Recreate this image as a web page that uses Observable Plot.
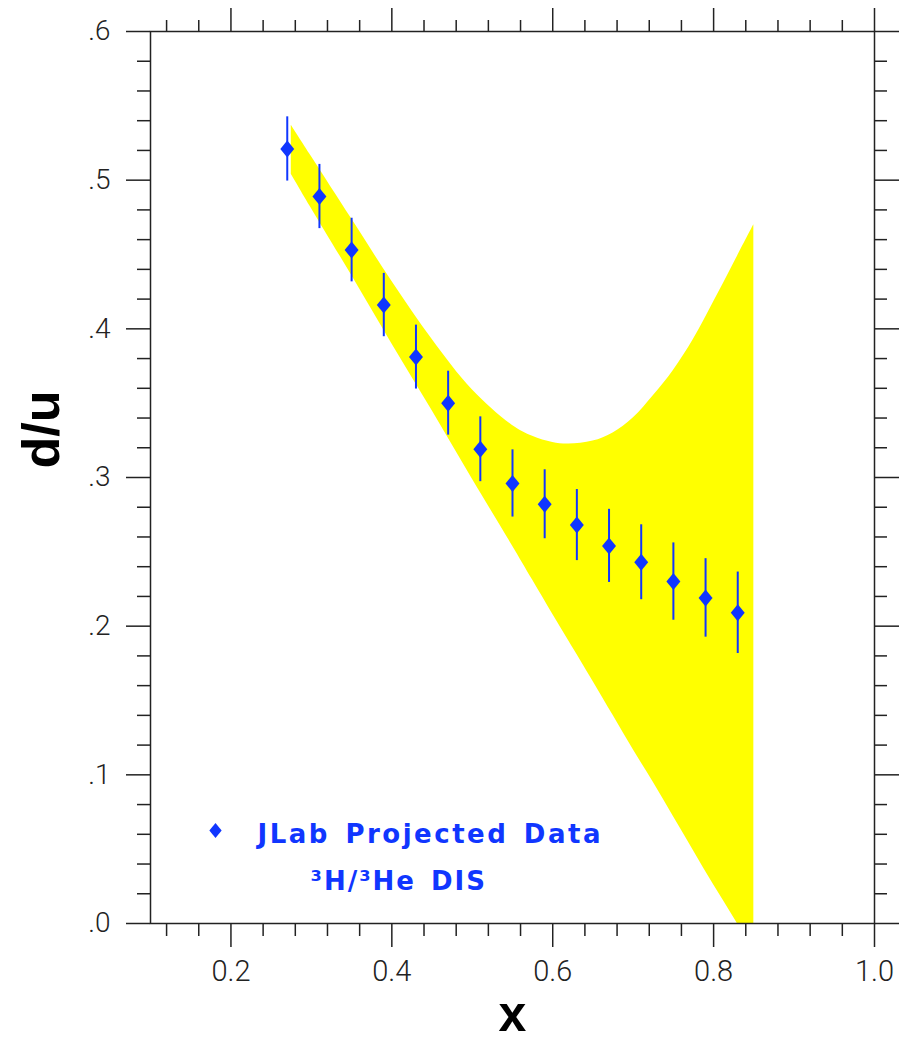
<!DOCTYPE html>
<html>
<head>
<meta charset="utf-8">
<script src="https://cdn.jsdelivr.net/npm/d3@7"></script>
<script src="https://cdn.jsdelivr.net/npm/@observablehq/plot@0.6"></script>
<style>
  html, body { margin: 0; padding: 0; background: #fff; }
  #chart svg { display: block; }
</style>
</head>
<body>
<div id="chart"></div>
<script>
// ---- data ----
const pointX = [0.27, 0.31, 0.35, 0.39, 0.43, 0.47, 0.51, 0.55, 0.59, 0.63, 0.67, 0.71, 0.75, 0.79, 0.83];
const pointY = [0.521, 0.489, 0.453, 0.416, 0.381, 0.350, 0.319, 0.296, 0.282, 0.268, 0.254, 0.243, 0.230, 0.219, 0.209];
const pointErr = [0.0216, 0.0216, 0.0214, 0.0213, 0.0215, 0.0215, 0.0218, 0.0226, 0.0232, 0.0239, 0.0246, 0.0252, 0.0260, 0.0264, 0.0274];

const bandX     = [0.275, 0.30, 0.35, 0.40, 0.45, 0.50, 0.55, 0.575, 0.60, 0.62, 0.65, 0.675, 0.70, 0.725, 0.75, 0.775, 0.80, 0.825, 0.85];
const bandUpper = [0.537, 0.516, 0.474, 0.432, 0.393, 0.359, 0.335, 0.3277, 0.3235, 0.3225, 0.3245, 0.330, 0.340, 0.355, 0.372, 0.393, 0.418, 0.444, 0.470];
const bandLower = [0.504, 0.481, 0.436, 0.390, 0.345, 0.299, 0.254, 0.231, 0.208, 0.190, 0.163, 0.140, 0.117, 0.095, 0.072, 0.049, 0.026, 0.004, -0.019];

const xMajor = [0.2, 0.4, 0.6, 0.8, 1.0];
const xTickLabels = ["0.2", "0.4", "0.6", "0.8", "1.0"];
const xMinor = [0.12, 0.16, 0.24, 0.28, 0.32, 0.36, 0.44, 0.48, 0.52, 0.56, 0.64, 0.68, 0.72, 0.76, 0.84, 0.88, 0.92, 0.96];
const yMajor = [0, 0.1, 0.2, 0.3, 0.4, 0.5, 0.6];
const yTickLabels = [".0", ".1", ".2", ".3", ".4", ".5", ".6"];
const yMinor = [0.02, 0.04, 0.06, 0.08, 0.12, 0.14, 0.16, 0.18, 0.22, 0.24, 0.26, 0.28,
                0.32, 0.34, 0.36, 0.38, 0.42, 0.44, 0.46, 0.48, 0.52, 0.54, 0.56, 0.58];

const legendLabel = "JLab Projected Data";
const legendSub = "³H/³He DIS";
const xLabel = "x";
const yLabel = "d/u";

// ---- tables ----
const points = pointX.map((x, i) => ({x, y: pointY[i], e: pointErr[i]}));
const band = bandX.map((x, i) => ({x, hi: bandUpper[i], lo: bandLower[i]}));

const blue = "#1036ff";
const axisColor = "#222";
const tickFont = "Roboto";

const diamond = {
  draw(ctx, size) {
    const r = Math.sqrt(size / Math.PI);
    const w = r * 0.82;
    ctx.moveTo(0, -r);
    ctx.lineTo(w, 0);
    ctx.lineTo(0, r);
    ctx.lineTo(-w, 0);
    ctx.closePath();
  }
};

const lookup = (vals, labels) => (d) => {
  const i = vals.findIndex(v => Math.abs(v - d) < 1e-9);
  return i < 0 ? "" : labels[i];
};
const blank = () => "";

const chart = Plot.plot({
  width: 910,
  height: 1041,
  marginLeft: 150,
  marginRight: 36,
  marginTop: 31,
  marginBottom: 118,
  style: {background: "#fff", overflow: "visible"},
  x: {domain: [0.1, 1.0], axis: null},
  y: {domain: [0, 0.6], axis: null},
  marks: [
    Plot.areaY(band, {x: "x", y1: "lo", y2: "hi", fill: "#ffff00", curve: "catmull-rom", clip: true}),
    Plot.ruleX(points, {x: "x", y1: d => d.y - d.e, y2: d => d.y + d.e, stroke: blue, strokeWidth: 2}),
    Plot.dot(points, {x: "x", y: "y", symbol: diamond, r: 8.5, fill: blue}),
    Plot.frame({stroke: axisColor, strokeWidth: 1.5}),
    // left axis
    Plot.axisY({anchor: "left", ticks: yMajor, tickSize: 24, tickPadding: 16, label: null,
      tickFormat: lookup(yMajor, yTickLabels), fontSize: 28, fontFamily: tickFont, fontWeight: 300,
      stroke: axisColor, strokeWidth: 1.5, fill: "#222"}),
    Plot.axisY({anchor: "left", ticks: yMinor, tickSize: 13, label: null, tickFormat: blank,
      stroke: axisColor, strokeWidth: 1.5}),
    // right axis
    Plot.axisY({anchor: "right", ticks: yMajor, tickSize: 24, label: null, tickFormat: blank,
      stroke: axisColor, strokeWidth: 1.5}),
    Plot.axisY({anchor: "right", ticks: yMinor, tickSize: 12, label: null, tickFormat: blank,
      stroke: axisColor, strokeWidth: 1.5}),
    // bottom axis
    Plot.axisX({anchor: "bottom", ticks: xMajor, tickSize: 24, tickPadding: 13, label: null,
      tickFormat: lookup(xMajor, xTickLabels), fontSize: 29, fontFamily: tickFont, fontWeight: 300,
      stroke: axisColor, strokeWidth: 1.5, fill: "#222"}),
    Plot.axisX({anchor: "bottom", ticks: xMinor, tickSize: 13, label: null, tickFormat: blank,
      stroke: axisColor, strokeWidth: 1.5}),
    // top axis
    Plot.axisX({anchor: "top", ticks: xMajor, tickSize: 24, label: null, tickFormat: blank,
      stroke: axisColor, strokeWidth: 1.5}),
    Plot.axisX({anchor: "top", ticks: xMinor, tickSize: 12, label: null, tickFormat: blank,
      stroke: axisColor, strokeWidth: 1.5}),
    // axis titles
    Plot.text([xLabel], {frameAnchor: "bottom", dy: 107, lineAnchor: "bottom", text: d => d,
      fontSize: 50, fontWeight: "bold", fontFamily: "Liberation Sans", fill: "#000"}),
    Plot.text([yLabel], {frameAnchor: "left", dx: -92, dy: -9, rotate: -90, lineAnchor: "bottom", text: d => d,
      fontSize: 52, fontWeight: "bold", fontFamily: "Liberation Sans", fill: "#000"}),
    // legend
    Plot.dot([legendLabel], {frameAnchor: "bottom-left", dx: 65, dy: -93, symbol: diamond, r: 7.5, fill: blue}),
    Plot.text([legendLabel], {frameAnchor: "bottom-left", dx: 107, dy: -81, textAnchor: "start", lineAnchor: "bottom",
      text: d => d, fontSize: 26, fontWeight: "bold", fontFamily: "DejaVu Sans", fill: blue}),
    Plot.text([legendSub], {frameAnchor: "bottom-left", dx: 160, dy: -34, textAnchor: "start", lineAnchor: "bottom",
      text: d => d, fontSize: 26, fontWeight: "bold", fontFamily: "DejaVu Sans", fill: blue})
  ]
});

d3.select(chart).selectAll("text").filter(function() {
  return this.textContent === legendLabel;
}).style("letter-spacing", "2.5px").style("word-spacing", "4px");
d3.select(chart).selectAll("text").filter(function() {
  return this.textContent === legendSub;
}).style("letter-spacing", "2px").style("word-spacing", "4px");

document.getElementById("chart").appendChild(chart);
</script>
</body>
</html>
